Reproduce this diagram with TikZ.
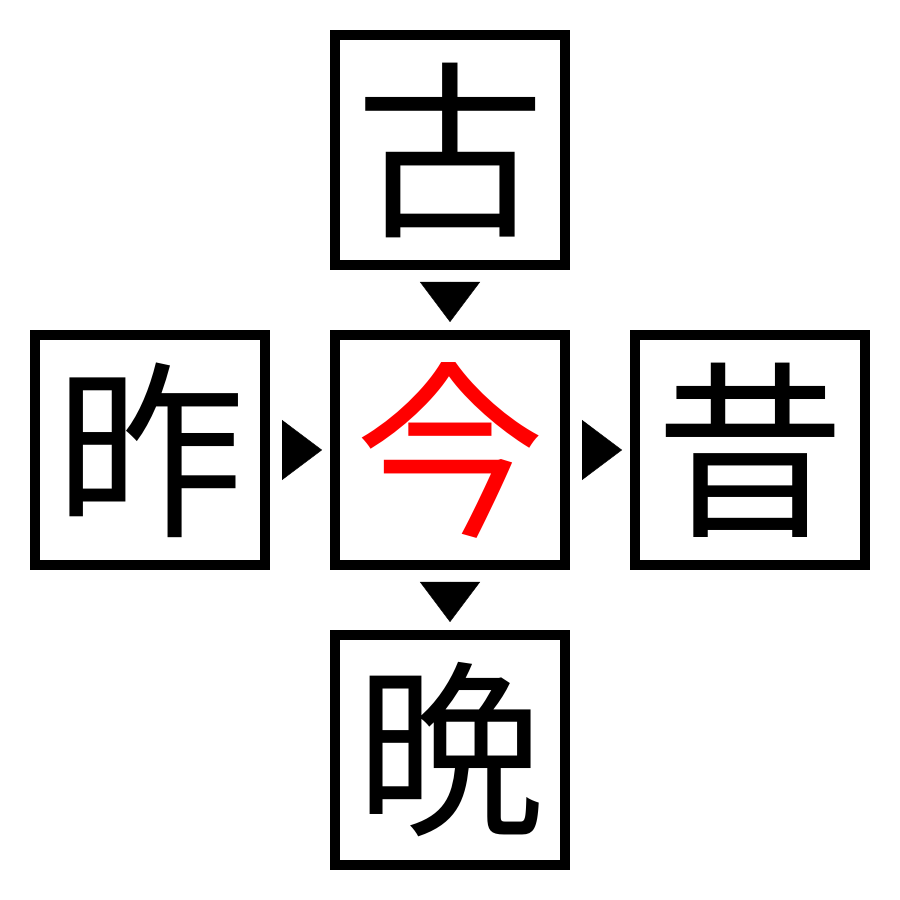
\documentclass[tikz,border=0pt]{standalone}
\usepackage{fontspec}
\newfontfamily\cjk{Noto Sans CJK JP}
\usetikzlibrary{arrows.meta, positioning}

\begin{document}
\begin{tikzpicture}[
    node distance=0.6cm,
    kanji/.style={rectangle, draw, line width=1mm, minimum size=2.3cm, inner sep=0pt, font=\cjk\fontsize{54}{54}\selectfont},
    pointer/.style={-{Triangle[length=0.4cm, width=0.6cm]}, line width=0.1pt, shorten <=0.12cm, shorten >=0.08cm}
]
\useasboundingbox (0,0) rectangle (9,9);

% Boxes
\node[kanji, text=red] (now) at (4.5,4.5) {今};
\node[kanji, above=of now] (old) {古};
\node[kanji, left=of now] (yest) {昨};
\node[kanji, right=of now] (past) {昔};
\node[kanji, below=of now] (eve) {晩};

% Arrows
\draw[pointer] (old) -- (now);
\draw[pointer] (yest) -- (now);
\draw[pointer] (now) -- (past);
\draw[pointer] (now) -- (eve);

\end{tikzpicture}
\end{document}
